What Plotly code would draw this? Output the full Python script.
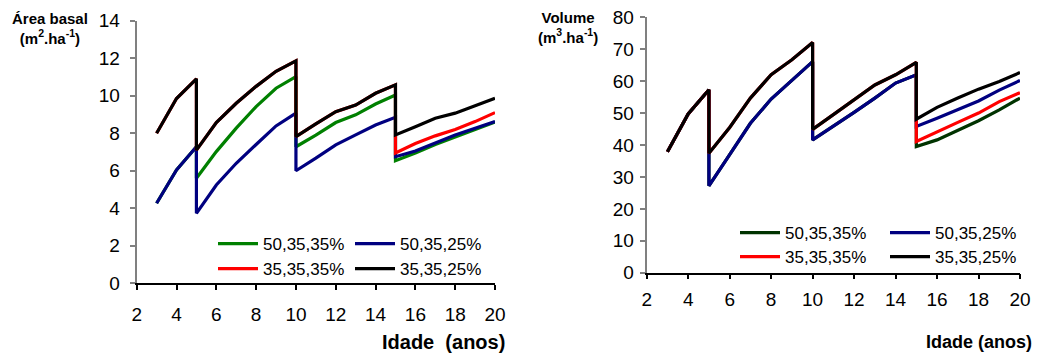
import plotly.graph_objects as go

W, H = 1039, 355

idade = [3, 4, 5, 5, 6, 7, 8, 9, 10, 10, 11, 12, 13, 14, 15, 15, 16, 17, 18, 19, 20]
series_names = ["50,35,35%", "50,35,25%", "35,35,35%", "35,35,25%"]

# Área basal (m2/ha)
ab_50_35_35 = [4.27, 6.04, 7.28, 5.6, 7.02, 8.27, 9.42, 10.4, 11.02, 7.28, 7.9, 8.57, 8.98, 9.56, 10.04,
               6.54, 6.95, 7.4, 7.8, 8.2, 8.6]
ab_50_35_25 = [4.27, 6.04, 7.28, 3.73, 5.24, 6.4, 7.4, 8.39, 9.07, 6.0, 6.67, 7.38, 7.91, 8.44, 8.85,
               6.75, 7.05, 7.47, 7.91, 8.27, 8.62]
ab_35_35_35 = [8.0, 9.85, 10.9, 7.1, 8.57, 9.6, 10.5, 11.3, 11.86, 7.82, 8.5, 9.15, 9.5, 10.13, 10.58,
               6.95, 7.45, 7.86, 8.2, 8.62, 9.1]
ab_35_35_25 = [8.0, 9.85, 10.9, 7.1, 8.57, 9.6, 10.5, 11.3, 11.86, 7.82, 8.5, 9.15, 9.5, 10.13, 10.58,
               7.91, 8.35, 8.8, 9.07, 9.46, 9.87]

# Volume (m3/ha)
vol_50_35_35 = [37.9, 49.7, 57.3, 27.2, 37.0, 46.8, 54.4, 60.4, 66.1, 41.6, 45.8, 50.2, 54.7, 59.4, 62.0,
                39.5, 41.6, 44.7, 47.6, 51.0, 54.7]
vol_50_35_25 = [37.9, 49.7, 57.3, 27.2, 37.0, 46.8, 54.4, 60.4, 66.1, 41.6, 45.8, 50.2, 54.7, 59.4, 62.0,
                45.8, 48.4, 51.2, 53.8, 57.2, 60.2]
vol_35_35_35 = [37.9, 49.7, 57.3, 37.4, 45.5, 54.7, 62.0, 66.7, 72.1, 44.9, 49.5, 54.1, 58.8, 62.0, 65.9,
                41.1, 44.2, 47.1, 50.0, 53.6, 56.4]
vol_35_35_25 = [37.9, 49.7, 57.3, 37.4, 45.5, 54.7, 62.0, 66.7, 72.1, 44.9, 49.5, 54.1, 58.8, 62.0, 65.9,
                48.1, 51.8, 54.7, 57.5, 59.9, 62.7]

left_colors = ["#008000", "#000080", "#FF0000", "#000000"]
right_colors = ["#003300", "#000080", "#FF0000", "#000000"]

FONT = "Liberation Sans, Arial, sans-serif"

fig = go.Figure()

left_data = [ab_50_35_35, ab_50_35_25, ab_35_35_35, ab_35_35_25]
right_data = [vol_50_35_35, vol_50_35_25, vol_35_35_35, vol_35_35_25]
left_legends = ["legend", "legend", "legend2", "legend2"]
right_legends = ["legend3", "legend3", "legend4", "legend4"]

for name, ys, c, lg in zip(series_names, left_data, left_colors, left_legends):
    fig.add_trace(go.Scatter(x=idade, y=ys, mode="lines", name=name,
                             line=dict(color=c, width=3.2), xaxis="x", yaxis="y",
                             legend=lg))
for name, ys, c, lg in zip(series_names, right_data, right_colors, right_legends):
    fig.add_trace(go.Scatter(x=idade, y=ys, mode="lines", name=name,
                             line=dict(color=c, width=3.2), xaxis="x2", yaxis="y2",
                             legend=lg))

def px_x(p):
    return p / W

def px_y(p):
    return 1 - p / H

xcommon = dict(range=[2, 20], tick0=2, dtick=2, ticks="outside", ticklen=5, tickwidth=1.5,
               tickcolor="#000000", showline=True, linecolor="#000000", linewidth=1.5,
               showgrid=False, zeroline=False, tickfont=dict(family=FONT, size=19, color="#000"),
               fixedrange=True, automargin=False)
ycommon = dict(ticks="outside", ticklen=5, tickwidth=1.5, tickcolor="#808080",
               showline=True, linecolor="#808080", linewidth=2, showgrid=False, zeroline=False,
               tickfont=dict(family=FONT, size=19, color="#000"), fixedrange=True, automargin=False)

legend_common = dict(orientation="h", bgcolor="rgba(0,0,0,0)", borderwidth=0,
                     font=dict(family=FONT, size=17, color="#000"), itemwidth=40,
                     xanchor="left", yanchor="middle", entrywidthmode="pixels",
                     tracegroupgap=0, itemclick=False, itemdoubleclick=False)

fig.update_layout(
    width=W, height=H,
    margin=dict(l=0, r=0, t=0, b=0, pad=0, autoexpand=False),
    paper_bgcolor="white", plot_bgcolor="white",
    showlegend=True,
    xaxis=dict(domain=[px_x(136.7), px_x(495)], anchor="y", ticklabelstandoff=8, **xcommon),
    yaxis=dict(domain=[px_y(283.3), px_y(20.7)], anchor="x", range=[0, 14], dtick=2,
               ticklabelstandoff=6, **ycommon),
    xaxis2=dict(domain=[px_x(646.7), px_x(1020)], anchor="y2", ticklabelstandoff=4, **xcommon),
    yaxis2=dict(domain=[px_y(272.7), px_y(17.3)], anchor="x2", range=[0, 80], dtick=10,
                ticklabelstandoff=2, **ycommon),
    legend=dict(x=px_x(213), y=px_y(244), entrywidth=82, **legend_common),
    legend2=dict(x=px_x(213), y=px_y(269), entrywidth=82, **legend_common),
    legend3=dict(x=px_x(735), y=px_y(233), entrywidth=95, **legend_common),
    legend4=dict(x=px_x(735), y=px_y(257), entrywidth=95, **legend_common),
    annotations=[
        dict(text="<b>Área basal</b><br><b>(m<sup>2</sup>.ha<sup>-1</sup>)</b>",
             x=px_x(50), y=px_y(28), xref="paper", yref="paper", showarrow=False,
             xanchor="center", yanchor="middle", align="center",
             font=dict(family=FONT, size=15, color="#000")),
        dict(text="<b>Volume</b><br><b>(m<sup>3</sup>.ha<sup>-1</sup>)</b>",
             x=px_x(568), y=px_y(27), xref="paper", yref="paper", showarrow=False,
             xanchor="center", yanchor="middle", align="center",
             font=dict(family=FONT, size=15, color="#000")),
        dict(text="<b>Idade  (anos)</b>",
             x=px_x(443), y=px_y(342), xref="paper", yref="paper", showarrow=False,
             xanchor="center", yanchor="middle",
             font=dict(family=FONT, size=20, color="#000")),
        dict(text="<b>Idade (anos)</b>",
             x=px_x(979), y=px_y(342), xref="paper", yref="paper", showarrow=False,
             xanchor="center", yanchor="middle",
             font=dict(family=FONT, size=18, color="#000")),
    ],
)

fig.write_html("out.html")
